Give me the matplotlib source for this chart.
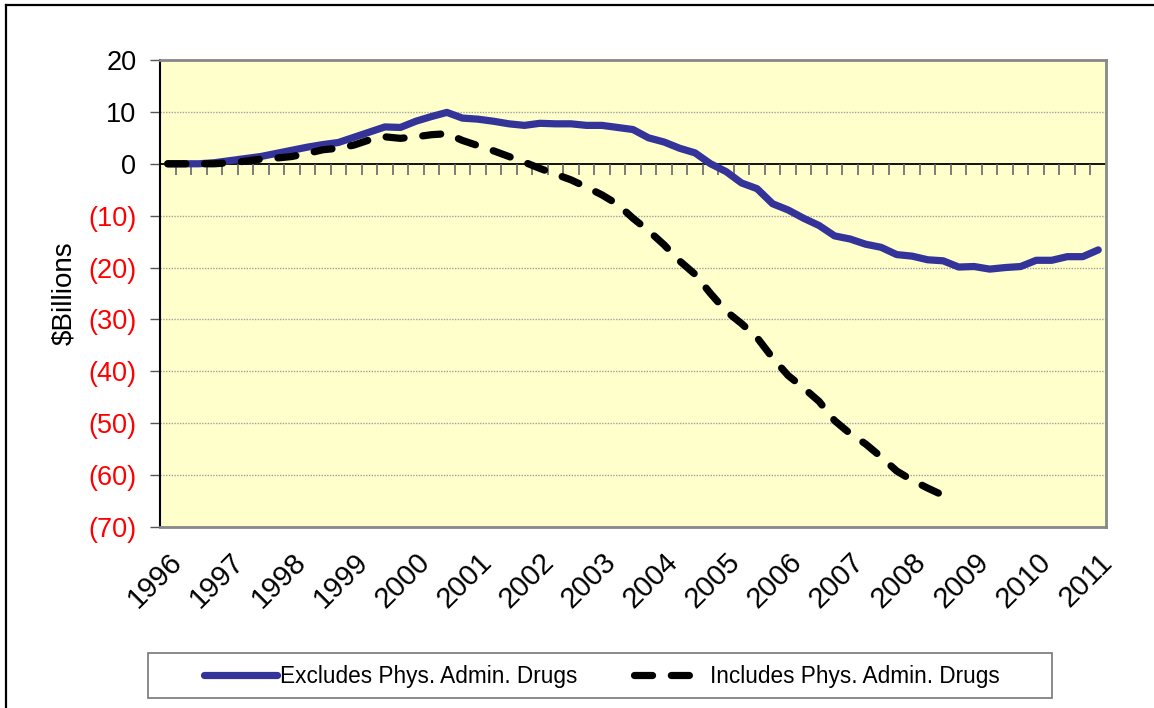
import matplotlib.pyplot as plt
from matplotlib.patches import Rectangle
from matplotlib.lines import TICKDOWN

plt.rcParams['font.family'] = ['Liberation Sans', 'DejaVu Sans']

# =========================
# Data (quarterly, 1996Q1 .. 2011Q1), $ billions
# =========================
years = [str(y) for y in range(1996, 2012)]

excludes = [0, 0, 0, 0.2, 0.6, 1.0, 1.4, 2.0, 2.6, 3.2,
            3.7, 4.1, 5.1, 6.1, 7.1, 7.0, 8.2, 9.1, 9.9, 8.8,
            8.6, 8.2, 7.7, 7.4, 7.8, 7.7, 7.7, 7.4, 7.4, 7.0,
            6.6, 5.0, 4.2, 3.0, 2.1, 0.0, -1.5, -3.7, -4.8, -7.7,
            -8.9, -10.5, -11.9, -13.9, -14.5, -15.5, -16.1, -17.5, -17.8, -18.5,
            -18.7, -19.9, -19.8, -20.3, -20.0, -19.8, -18.6, -18.6, -17.9, -17.9,
            -16.6]

includes = [0, 0, 0, 0, 0.2, 0.5, 0.9, 1.1, 1.4, 2.0,
            2.7, 3.0, 3.6, 4.6, 5.2, 4.9, 5.2, 5.6, 5.8, 4.5,
            3.5, 2.5, 1.4, 0.3, -0.9, -2.0, -3.1, -4.5, -6.0, -7.8,
            -10.5, -12.9, -15.6, -18.7, -21.3, -25.0, -28.4, -30.8, -33.5, -37.4,
            -40.8, -43.2, -45.8, -49.5, -52.0, -54.0, -56.5, -59.2, -61.0, -62.5,
            -63.9]

yticks = list(range(-70, 21, 10))

# =========================
# Figure
# =========================
fig = plt.figure(figsize=(11.54, 7.08), dpi=100)
ax = fig.add_axes([160 / 1154, 1 - 527 / 708, 946 / 1154, 467 / 708])
ax.set_facecolor('#FFFFCC')

n = len(excludes)
ax.set_xlim(-0.5, n - 0.5)
ax.set_ylim(-70, 20)

# grid lines (dotted grey)
for v in yticks:
    if v not in (-70, 0, 20):
        ax.axhline(v, color='#A0A0A0', lw=1, ls=(0, (1, 1)), zorder=1)

# zero axis with category tick marks
ax.axhline(0, color='black', lw=1.3, zorder=2)
bounds = [k + 0.5 for k in range(n - 1)]
ax.plot(bounds, [0] * len(bounds), ls='none', marker=TICKDOWN, ms=8,
        mew=1.2, color='#666666', zorder=2)

l1, = ax.plot(range(len(excludes)), excludes, color='#333399', lw=5.2,
              solid_capstyle='round', solid_joinstyle='round', zorder=3,
              label='Excludes Phys. Admin. Drugs')
l2, = ax.plot(range(len(includes)), includes, color='black', lw=5.2,
              ls=(0, (2.5, 2.6)), dash_capstyle='round', zorder=4,
              label='Includes Phys. Admin. Drugs')

# y axis
ax.set_yticks(yticks)
ylabels = [str(v) if v >= 0 else '(%d)' % -v for v in yticks]
ax.set_yticklabels(ylabels)
for t, v in zip(ax.get_yticklabels(), yticks):
    t.set_color('black' if v >= 0 else '#FF0000')
ax.tick_params(axis='y', direction='out', length=7, width=1, pad=10,
               labelsize=19.5, color='#555555')
ax.set_ylabel('$Billions', fontsize=20, labelpad=8)

# x axis labels at bottom
ax.set_xticks(range(0, n, 4))
ax.set_xticklabels(years, rotation=45, ha='right', rotation_mode='anchor')
ax.tick_params(axis='x', length=0, pad=15, labelsize=21)

for side in ['top', 'right', 'bottom']:
    ax.spines[side].set_color('#888888')
    ax.spines[side].set_linewidth(2)
ax.spines['left'].set_color('black')
ax.spines['left'].set_linewidth(1.5)

# legend box
fig.patches.append(Rectangle((148 / 1154, 1 - 698 / 708), 904 / 1154, 45 / 708,
                             transform=fig.transFigure, facecolor='white',
                             edgecolor='#777777', lw=1.2))
fig.legend(handles=[l1, l2], loc='center', bbox_to_anchor=(602 / 1154, 1 - 676 / 708),
           ncol=2, frameon=False, fontsize=16.3, handlelength=3.2,
           handletextpad=0.15, columnspacing=2.5)

# outer frame
fig.add_artist(plt.Line2D([6 / 1154, 6 / 1154], [0, 1 - 5 / 708], color='black',
                          lw=1.6, transform=fig.transFigure))
fig.add_artist(plt.Line2D([6 / 1154, 1], [1 - 5 / 708, 1 - 5 / 708], color='black',
                          lw=1.6, transform=fig.transFigure))

fig.savefig('out.png', dpi=100)
